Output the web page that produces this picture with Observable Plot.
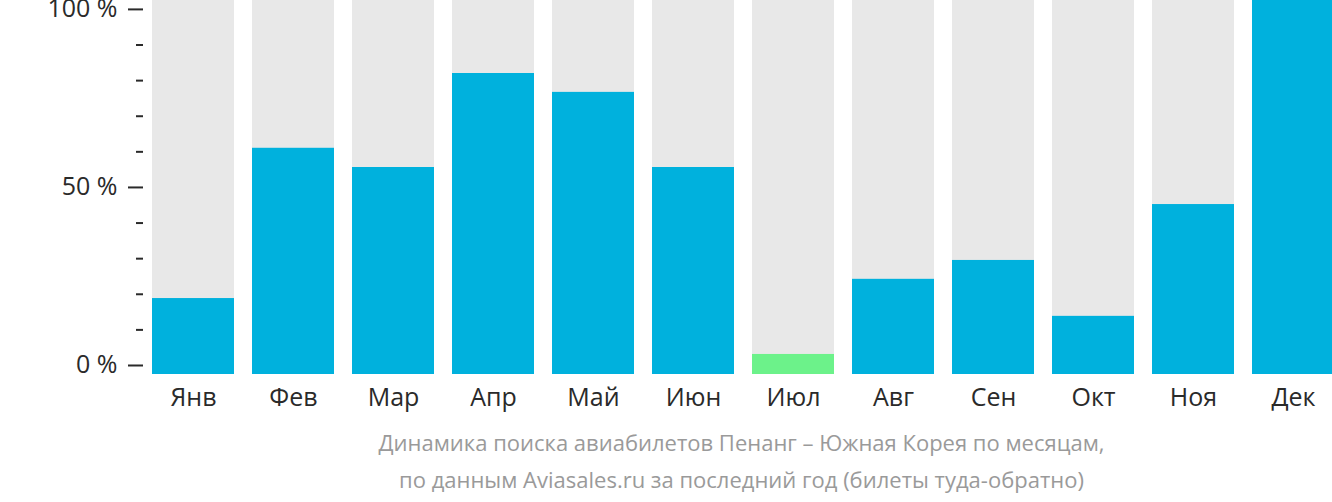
<!DOCTYPE html>
<html>
<head>
<meta charset="utf-8">
<script src="https://cdn.jsdelivr.net/npm/d3@7"></script>
<script src="https://cdn.jsdelivr.net/npm/@observablehq/plot@0.6"></script>
<style>
  html, body { margin: 0; padding: 0; background: #fff; overflow: hidden; }
  body { width: 1332px; height: 502px; position: relative; font-family: "Open Sans", sans-serif; }
  #caption { position: absolute; top: 424px; left: 741.5px; transform: translateX(-50%); white-space: nowrap;
             text-align: center; color: #9a9a9a; font-size: 22px; line-height: 37px; }
</style>
</head>
<body>
<div id="chart"></div>
<div id="caption">Динамика поиска авиабилетов Пенанг – Южная Корея по месяцам,<br>по данным Aviasales.ru за последний год (билеты туда-обратно)</div>
<script>
const months = ["Янв", "Фев", "Мар", "Апр", "Май", "Июн", "Июл", "Авг", "Сен", "Окт", "Ноя", "Дек"];
const values = [18.8, 61.0, 55.6, 82.0, 76.7, 55.6, 3.1, 24.2, 29.5, 13.8, 45.2, 102.5];
const majorTicks = [0, 50, 100];
const minorTicks = [10, 20, 30, 40, 60, 70, 80, 90];
const yMin = -2.53;
const yMax = 102.5;

const minValue = d3.min(values);
const data = months.map((m, i) => ({month: m, value: values[i], low: yMin, full: yMax}));

const chart = Plot.plot({
  width: 1332,
  height: 424,
  marginTop: 0,
  marginBottom: 50,
  marginLeft: 143,
  marginRight: 0,
  style: {fontFamily: "'Open Sans', sans-serif", color: "#2a2a2a", background: "transparent"},
  x: {domain: months, range: [134, 1352], padding: 0.18, label: null},
  y: {domain: [yMin, yMax], range: [374, 0], label: null},
  marks: [
    Plot.barY(data, {x: "month", y1: "low", y2: "full", fill: "#e8e8e8"}),
    Plot.barY(data, {x: "month", y1: "low", y2: "value", fill: d => d.value === minValue ? "#6cf28a" : "#00b1dd"}),
    Plot.axisY({ticks: majorTicks, tickFormat: d => d + " %", tickSize: 15, tickPadding: 11, fontSize: 25, strokeWidth: 2, label: null}),
    Plot.axisY({ticks: minorTicks, tickFormat: () => "", tickSize: 7, strokeWidth: 2, label: null}),
    Plot.axisX({tickSize: 0, tickPadding: 14, fontSize: 25, label: null})
  ]
});
document.getElementById("chart").appendChild(chart);
</script>
</body>
</html>
